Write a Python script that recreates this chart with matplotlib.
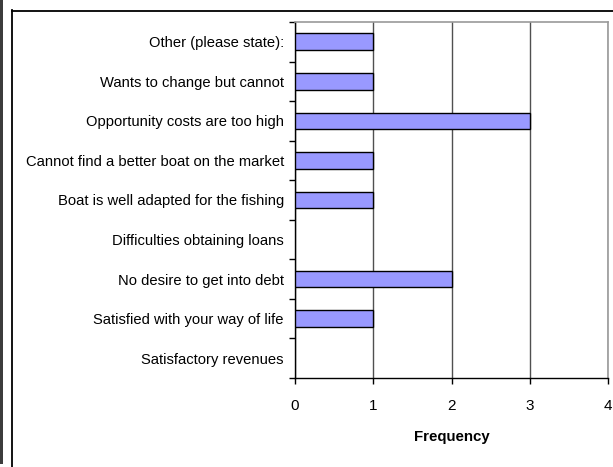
import matplotlib.pyplot as plt
from matplotlib.lines import Line2D
from matplotlib.patches import Rectangle

# respostas (de baixo para cima, como no eixo)
categorias = [
    "Satisfactory revenues",
    "Satisfied with your way of life",
    "No desire to get into debt",
    "Difficulties obtaining loans",
    "Boat is well adapted for the fishing",
    "Cannot find a better boat on the market",
    "Opportunity costs are too high",
    "Wants to change but cannot",
    "Other (please state):",
]
frequencias = [0, 1, 2, 0, 1, 1, 3, 1, 1]
xticks = [0, 1, 2, 3, 4]

plt.rcParams["font.family"] = ["Liberation Sans", "DejaVu Sans"]

fig = plt.figure(figsize=(6.13, 4.67), dpi=100)
W, H = 613, 467

# moldura externa e barra escura à esquerda
fig.patches.append(Rectangle((0, 3 / H), 3 / W, 1, transform=fig.transFigure,
                             facecolor="#3c3c3c", edgecolor="none"))
fig.lines.append(Line2D([11.5 / W, 11.5 / W], [0, 1 - 10 / H], transform=fig.transFigure,
                        color="black", lw=1.3))
fig.lines.append(Line2D([11.5 / W, 1], [1 - 10.5 / H, 1 - 10.5 / H], transform=fig.transFigure,
                        color="black", lw=1.3))

ax = fig.add_axes([295 / W, 1 - 378 / H, (608 - 295) / W, (378 - 22) / H])
y = list(range(len(categorias)))
# barras com valor zero ficam sem contorno
bordas = [1.0 if f > 0 else 0 for f in frequencias]
ax.barh(y, frequencias, height=0.42, color="#9999FF", edgecolor="black", linewidth=bordas, zorder=3)

ax.set_xlim(0, 4)
ax.set_ylim(-0.5, len(categorias) - 0.5)
ax.set_xticks(xticks)
ax.set_xticklabels([str(t) for t in xticks], fontsize=11)
ax.set_yticks(y)
ax.set_yticklabels(categorias, fontsize=10.6)
ax.tick_params(axis="y", length=0, pad=8)
ax.tick_params(axis="x", length=4, width=1, pad=11)

# marcas entre categorias no eixo vertical
ax.set_yticks([i - 0.5 for i in range(len(categorias) + 1)], minor=True)
ax.tick_params(axis="y", which="minor", length=4, width=1)

ax.xaxis.grid(True, color="#505050", lw=1, zorder=0)
ax.set_axisbelow(True)
for lado in ["top", "right"]:
    ax.spines[lado].set_color("#9a9a9a")
    ax.spines[lado].set_linewidth(1.2)
for lado in ["left", "bottom"]:
    ax.spines[lado].set_color("black")
    ax.spines[lado].set_linewidth(1)

ax.set_xlabel("Frequency", fontsize=10.8, fontweight="bold", labelpad=12)

fig.savefig("out.png", dpi=100)
